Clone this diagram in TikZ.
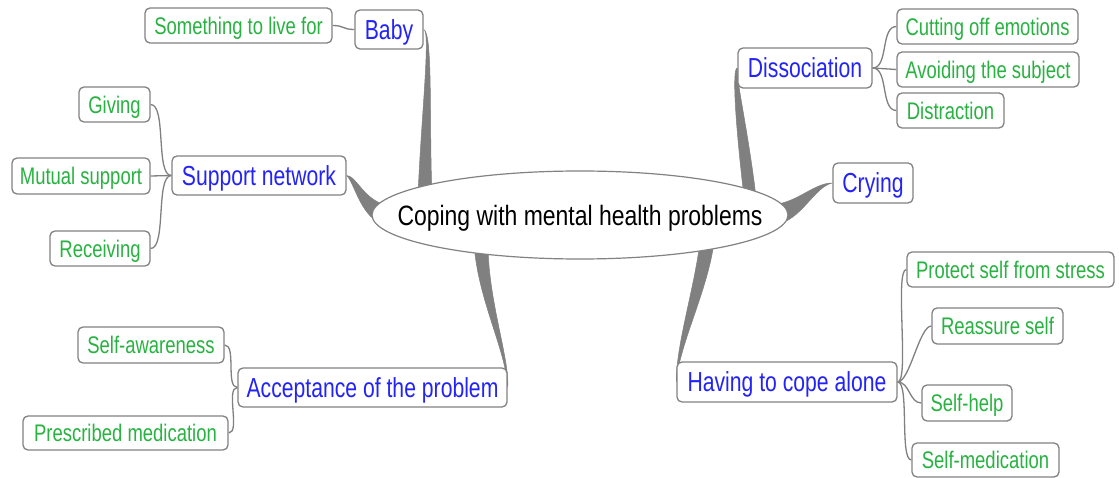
\documentclass[tikz,border=0pt]{standalone}
\usepackage{fontspec}
\setmainfont{Liberation Sans}[FakeStretch=0.82]
\newfontfamily\narrowfont{Liberation Sans}[FakeStretch=0.77]
\usetikzlibrary{shapes.geometric,backgrounds}
\definecolor{bluetxt}{RGB}{35,35,245}
\definecolor{greentxt}{RGB}{40,178,65}
\definecolor{bordergray}{RGB}{130,130,130}
\definecolor{branchgray}{RGB}{128,128,128}
\tikzset{
  anybox/.style={draw=bordergray, line width=1.3pt, rounded corners=5pt, fill=white, inner xsep=2pt, inner ysep=0pt, text depth=0pt},
  mainbox/.style={anybox, text=bluetxt, font=\narrowfont\fontsize{27.5}{31}\selectfont, text height=19.7pt},
  subbox/.style={anybox, text=greentxt, font=\narrowfont\fontsize{24}{28}\selectfont, text height=17.2pt},
  twig/.style={draw=branchgray, line width=1.3pt},
  branch/.style={fill=branchgray, draw=branchgray, line width=0.5pt},
}
\begin{document}
\begin{tikzpicture}[x=1pt,y=-1pt]
\useasboundingbox (0,0) rectangle (1119,478);

% central node
\node[ellipse, draw=bordergray, line width=1.2pt, fill=white, inner sep=0pt,
      minimum width=416, minimum height=88] (center) at (580,215) {};
\node[font=\fontsize{28}{32}\selectfont, inner sep=0pt, text height=20pt, text depth=0pt] (centertext) at (580,216) {Coping with mental health problems};

% main branches
\node[mainbox, minimum width=68, minimum height=39] (baby) at (389,29.5) {Baby};
\node[mainbox, minimum width=174, minimum height=39] (support) at (259,175.5) {Support network};
\node[mainbox, minimum width=134, minimum height=40] (dissoc) at (805,68) {Dissociation};
\node[mainbox, minimum width=80, minimum height=40] (crying) at (873,183) {Crying};
\node[mainbox, minimum width=220, minimum height=40] (having) at (787,382) {Having to cope alone};
\node[mainbox, minimum width=269, minimum height=39] (accept) at (372.5,387.5) {Acceptance of the problem};

% sub nodes
\node[subbox, minimum width=187, minimum height=35] (live) at (238.5,25.5) {Something to live for};
\node[subbox, minimum width=71, minimum height=35] (giving) at (114.5,104.5) {Giving};
\node[subbox, minimum width=138, minimum height=36] (mutual) at (81,176) {Mutual support};
\node[subbox, minimum width=100, minimum height=35] (receiving) at (100,248.5) {Receiving};
\node[subbox, minimum width=181, minimum height=35] (cutting) at (987.5,26.5) {Cutting off emotions};
\node[subbox, minimum width=182, minimum height=35] (avoiding) at (988,69.5) {Avoiding the subject};
\node[subbox, minimum width=107, minimum height=35] (distraction) at (950.5,110.5) {Distraction};
\node[subbox, minimum width=207, minimum height=35] (protect) at (1010.5,269.5) {Protect self from stress};
\node[subbox, minimum width=131, minimum height=36] (reassure) at (997.5,326) {Reassure self};
\node[subbox, minimum width=90, minimum height=36] (selfhelp) at (967,403) {Self-help};
\node[subbox, minimum width=147, minimum height=34] (selfmed) at (985.5,460) {Self-medication};
\node[subbox, minimum width=146, minimum height=36] (awareness) at (151,345) {Self-awareness};
\node[subbox, minimum width=205, minimum height=34] (prescribed) at (125.5,433) {Prescribed medication};

\begin{scope}[on background layer]
\fill[white] (0,0) rectangle (1119,478);
% thick tapered branches
\filldraw[branch] (baby.east) .. controls (431,29.5) and (421,120) .. (418,196) -- (432,196) .. controls (429,120) and (433,33) .. (baby.east);
\filldraw[branch] (dissoc.west) .. controls (732,68) and (735,120) .. (744,197) -- (756,197) .. controls (748,130) and (736,80) .. (dissoc.west);
\filldraw[branch] (crying.west) .. controls (815,183) and (800,200) .. (778,204) -- (776,224) .. controls (800,222) and (815,186) .. (crying.west);
\filldraw[branch] (support.east) .. controls (356,176) and (362,196) .. (382,204) -- (380,223) .. controls (360,214) and (354,182) .. (support.east);
\filldraw[branch] (474,244) .. controls (478,300) and (506,350) .. (accept.east) .. controls (510,360) and (488,300) .. (488,244) -- cycle;
\filldraw[branch] (700,242) .. controls (694,290) and (676,345) .. (having.west) .. controls (679,345) and (708,290) .. (714,242) -- cycle;

% thin connectors
\draw[twig] (live.east) .. controls +(12,0) and +(-12,0) .. (baby.west);
\draw[twig] (support.west) .. controls +(-16,0) and +(16,0) .. (giving.east);
\draw[twig] (support.west) -- (mutual.east);
\draw[twig] (support.west) .. controls +(-16,0) and +(16,0) .. (receiving.east);
\draw[twig] (dissoc.east) .. controls +(16,0) and +(-16,0) .. (cutting.west);
\draw[twig] (dissoc.east) -- (avoiding.west);
\draw[twig] (dissoc.east) .. controls +(16,0) and +(-16,0) .. (distraction.west);
\draw[twig] (having.east) .. controls +(12,0) and +(-12,0) .. (protect.west);
\draw[twig] (having.east) .. controls +(12,0) and +(-12,0) .. (reassure.west);
\draw[twig] (having.east) .. controls +(12,0) and +(-12,0) .. (selfhelp.west);
\draw[twig] (having.east) .. controls +(12,0) and +(-12,0) .. (selfmed.west);
\draw[twig] (accept.west) .. controls +(-12,0) and +(12,0) .. (awareness.east);
\draw[twig] (accept.west) .. controls +(-12,0) and +(12,0) .. (prescribed.east);
\end{scope}
\end{tikzpicture}
\end{document}
